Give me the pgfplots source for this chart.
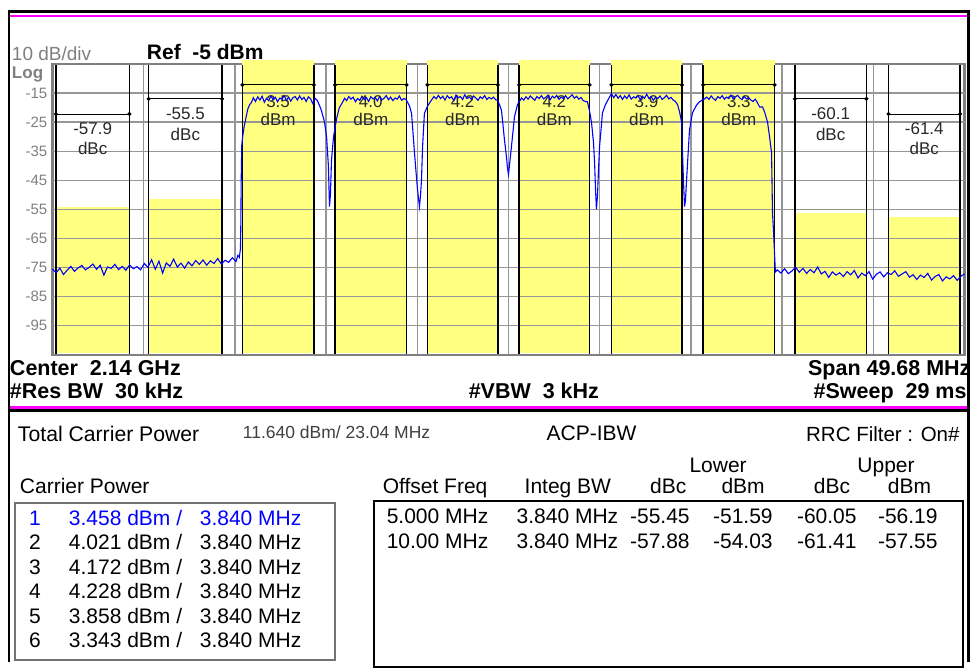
\documentclass[border=0pt]{standalone}
\usepackage{pgfplots}
\pgfplotsset{compat=1.18}
\usepackage{fontspec}
\setmainfont{Liberation Sans}
\definecolor{sy}{RGB}{255,255,128}
\definecolor{tr}{RGB}{0,0,255}
\definecolor{mg}{RGB}{255,0,255}
\definecolor{gl}{RGB}{150,150,150}
\definecolor{ax}{RGB}{128,128,128}
\definecolor{tx}{RGB}{40,40,40}
\newcommand\fs[1]{\fontsize{#1}{#1}\selectfont}
\begin{document}
\begin{tikzpicture}
\begin{scope}[x=1pt,y=1pt]
\path[use as bounding box] (0,0) rectangle (971,662);
\fill[white] (0,0) rectangle (971,662);
\end{scope}
\begin{axis}[
  at={(52.5pt,307pt)}, anchor=south west,
  width=912.5pt, height=291pt, scale only axis,
  xmin=-24.84, xmax=24.84, ymin=-105, ymax=-5,
  xtick={-19.872,-14.904,-9.936,-4.968,0,4.968,9.936,14.904,19.872},
  xticklabels={},
  ytick={-95,-85,-75,-65,-55,-45,-35,-25,-15},
  /pgf/number format/assume math mode=true,
  major tick length=0pt, tick style={draw=none},
  grid=major,
  grid style={line width=1.3pt, draw=gl},
  axis line style={line width=2.5pt, draw=ax},
  clip=false,
  yticklabel style={font=\fs{15}, text=ax, inner sep=1pt, xshift=-4pt},
]
% yellow integration bands
\addplot[fill=sy, draw=none] coordinates {(-24.65,-104.5) (-24.65,-54.03) (-20.65,-54.03) (-20.65,-104.5)};
\addplot[fill=sy, draw=none] coordinates {(-19.6,-104.5) (-19.6,-51.59) (-15.6,-51.59) (-15.6,-104.5)};
\addplot[fill=sy, draw=none] coordinates {(-14.5,-104.5) (-14.5,-3.6) (-10.6,-3.6) (-10.6,-104.5)};
\addplot[fill=sy, draw=none] coordinates {(-9.45,-104.5) (-9.45,-3.6) (-5.55,-3.6) (-5.55,-104.5)};
\addplot[fill=sy, draw=none] coordinates {(-4.42,-104.5) (-4.42,-3.6) (-0.58,-3.6) (-0.58,-104.5)};
\addplot[fill=sy, draw=none] coordinates {(0.58,-104.5) (0.58,-3.6) (4.42,-3.6) (4.42,-104.5)};
\addplot[fill=sy, draw=none] coordinates {(5.6,-104.5) (5.6,-3.6) (9.45,-3.6) (9.45,-104.5)};
\addplot[fill=sy, draw=none] coordinates {(10.6,-104.5) (10.6,-3.6) (14.5,-3.6) (14.5,-104.5)};
\addplot[fill=sy, draw=none] coordinates {(15.6,-104.5) (15.6,-56.19) (19.5,-56.19) (19.5,-104.5)};
\addplot[fill=sy, draw=none] coordinates {(20.7,-104.5) (20.7,-57.55) (24.6,-57.55) (24.6,-104.5)};
% horizontal grid over the bands
\draw[gl, line width=1.3pt] (axis cs:-24.84,-95) -- (axis cs:24.84,-95);
\draw[gl, line width=1.3pt] (axis cs:-24.84,-85) -- (axis cs:24.84,-85);
\draw[gl, line width=1.3pt] (axis cs:-24.84,-75) -- (axis cs:24.84,-75);
\draw[gl, line width=1.3pt] (axis cs:-24.84,-65) -- (axis cs:24.84,-65);
\draw[gl, line width=1.3pt] (axis cs:-24.84,-55) -- (axis cs:24.84,-55);
\draw[gl, line width=1.3pt] (axis cs:-24.84,-45) -- (axis cs:24.84,-45);
\draw[gl, line width=1.3pt] (axis cs:-24.84,-35) -- (axis cs:24.84,-35);
\draw[gl, line width=1.3pt] (axis cs:-24.84,-25) -- (axis cs:24.84,-25);
\draw[gl, line width=1.3pt] (axis cs:-24.84,-15) -- (axis cs:24.84,-15);
% band edges
\foreach \e in {-24.65,-20.65,-19.6,-15.6,-14.5,-10.6,-9.45,-5.55,-4.42,-0.58,0.58,4.42,5.6,9.45,10.6,14.5,15.6,19.5,20.7,24.6}{
  \edef\tmp{\noexpand\draw[black, line width=1.5pt] (axis cs:\e,-104.6) -- (axis cs:\e,-5.4);}\tmp
}
% measurement bars
\addplot[black, line width=0.9pt, mark=*, mark size=1.5pt] coordinates {(-24.65,-22.2) (-20.65,-22.2)};
\addplot[black, line width=0.9pt, mark=*, mark size=1.5pt] coordinates {(-19.6,-17.0) (-15.6,-17.0)};
\addplot[black, line width=0.9pt, mark=*, mark size=1.5pt] coordinates {(-14.5,-12.2) (-10.6,-12.2)};
\addplot[black, line width=0.9pt, mark=*, mark size=1.5pt] coordinates {(-9.45,-12.2) (-5.55,-12.2)};
\addplot[black, line width=0.9pt, mark=*, mark size=1.5pt] coordinates {(-4.42,-12.2) (-0.58,-12.2)};
\addplot[black, line width=0.9pt, mark=*, mark size=1.5pt] coordinates {(0.58,-12.2) (4.42,-12.2)};
\addplot[black, line width=0.9pt, mark=*, mark size=1.5pt] coordinates {(5.6,-12.2) (9.45,-12.2)};
\addplot[black, line width=0.9pt, mark=*, mark size=1.5pt] coordinates {(10.6,-12.2) (14.5,-12.2)};
\addplot[black, line width=0.9pt, mark=*, mark size=1.5pt] coordinates {(15.6,-17.0) (19.5,-17.0)};
\addplot[black, line width=0.9pt, mark=*, mark size=1.5pt] coordinates {(20.7,-22.2) (24.6,-22.2)};
% band labels
\begin{scope}[every node/.style={font=\fs{17}, text=tx, inner sep=0pt}]
\node at (axis cs:-22.65,-27.3) {-57.9};
\node at (axis cs:-22.65,-33.9) {dBc};
\node at (axis cs:-17.6,-22.2) {-55.5};
\node at (axis cs:-17.6,-29.1) {dBc};
\node at (axis cs:-12.55,-18.1) {3.5};
\node at (axis cs:-12.55,-24.2) {dBm};
\node at (axis cs:-7.5,-18.1) {4.0};
\node at (axis cs:-7.5,-24.2) {dBm};
\node at (axis cs:-2.5,-18.1) {4.2};
\node at (axis cs:-2.5,-24.2) {dBm};
\node at (axis cs:2.5,-18.1) {4.2};
\node at (axis cs:2.5,-24.2) {dBm};
\node at (axis cs:7.52,-18.1) {3.9};
\node at (axis cs:7.52,-24.2) {dBm};
\node at (axis cs:12.55,-18.1) {3.3};
\node at (axis cs:12.55,-24.2) {dBm};
\node at (axis cs:17.55,-22.2) {-60.1};
\node at (axis cs:17.55,-29.1) {dBc};
\node at (axis cs:22.65,-27.3) {-61.4};
\node at (axis cs:22.65,-33.9) {dBc};
\end{scope}
% trace
\addplot[tr, line width=1.1pt] coordinates {
(-24.84,-75.5)(-24.64,-76.8)(-24.44,-75.2)(-24.24,-77.4)(-24.04,-75.9)(-23.84,-74.6)(-23.64,-76.3)(-23.44,-75.1)(-23.24,-74.3)(-23.04,-75.8)
(-22.84,-74.9)(-22.64,-73.8)(-22.44,-75.6)(-22.24,-74.2)(-22.04,-77.6)(-21.84,-74.8)(-21.64,-75.3)(-21.44,-73.9)(-21.24,-75.7)(-21.04,-74.6)
(-20.84,-75.9)(-20.64,-74.1)(-20.44,-75.4)(-20.24,-74.7)(-20.04,-75.8)(-19.84,-73.6)(-19.64,-74.9)(-19.44,-72.3)(-19.24,-75.6)(-19.04,-72.8)
(-18.84,-76.9)(-18.64,-73.4)(-18.44,-74.6)(-18.24,-72.1)(-18.04,-74.8)(-17.84,-73.5)(-17.64,-75.2)(-17.44,-73.1)(-17.24,-74.4)(-17.04,-72.6)
(-16.84,-73.9)(-16.64,-72.4)(-16.44,-74.2)(-16.24,-72.7)(-16.04,-73.6)(-15.84,-71.9)(-15.64,-73.8)(-15.44,-72.5)(-15.24,-73.2)(-15.04,-71.6)
(-14.84,-72.9)(-14.74,-70.8)(-14.66,-71.5)(-14.60,-68.5)(-14.58,-60)(-14.56,-45)(-14.53,-33)(-14.48,-30)(-14.40,-26.5)(-14.30,-23.5)
(-14.20,-20.5)(-14.10,-19.0)(-14.00,-18.2)(-13.90,-16.6)
(-13.78,-17.9)(-13.66,-16.3)(-13.54,-17.4)(-13.42,-16.1)(-13.30,-18.2)(-13.18,-16.8)(-13.06,-17.6)(-12.94,-16.0)(-12.82,-17.3)(-12.70,-16.5)
(-12.58,-18.0)(-12.46,-16.7)(-12.34,-17.1)(-12.22,-15.9)(-12.10,-17.5)(-11.98,-16.4)(-11.86,-17.8)(-11.74,-16.6)(-11.62,-16.2)(-11.50,-17.4)
(-11.38,-16.0)(-11.26,-17.2)(-11.14,-16.5)(-11.02,-17.9)(-10.90,-16.3)(-10.78,-17.0)(-10.66,-18.6)(-10.54,-16.8)(-10.42,-17.5)(-10.30,-19.2)
(-10.19,-21)(-10.02,-25)(-9.91,-30)(-9.81,-40)(-9.75,-54)(-9.70,-50)(-9.64,-38)(-9.53,-30)(-9.37,-24)(-9.21,-20)(-9.05,-18.3)(-8.93,-16.8)
(-8.82,-17.6)(-8.70,-16.2)(-8.58,-17.1)(-8.46,-16.4)(-8.34,-18.0)(-8.22,-16.9)(-8.10,-17.5)(-7.98,-16.1)(-7.86,-17.2)(-7.74,-16.6)
(-7.62,-17.9)(-7.50,-16.3)(-7.38,-17.0)(-7.26,-16.5)(-7.14,-17.7)(-7.02,-16.2)(-6.90,-17.4)(-6.78,-16.8)(-6.66,-15.9)(-6.54,-17.3)
(-6.42,-16.4)(-6.30,-17.6)(-6.18,-16.7)(-6.06,-17.1)(-5.94,-16.0)(-5.82,-17.5)(-5.70,-16.9)(-5.58,-17.2)
(-5.39,-19.5)(-5.28,-22)(-5.12,-35.6)(-4.96,-48)(-4.85,-54)(-4.79,-50)(-4.74,-45)(-4.68,-33.5)(-4.58,-22)(-4.41,-19.5)(-4.30,-18.4)
(-4.18,-17.3)(-4.06,-16.2)(-3.94,-17.0)(-3.82,-15.8)(-3.70,-16.9)(-3.58,-16.1)(-3.46,-17.4)(-3.34,-15.9)(-3.22,-16.8)(-3.10,-16.3)
(-2.98,-17.6)(-2.86,-15.7)(-2.74,-16.6)(-2.62,-16.2)(-2.50,-17.2)(-2.38,-15.6)(-2.26,-16.9)(-2.14,-16.4)(-2.02,-17.1)(-1.90,-16.0)
(-1.78,-16.7)(-1.66,-17.5)(-1.54,-16.3)(-1.42,-16.9)(-1.30,-15.9)(-1.18,-17.2)(-1.06,-16.5)(-0.94,-17.0)(-0.82,-16.4)(-0.70,-17.3)
(-0.60,-17.5)(-0.49,-19)(-0.38,-21)(-0.22,-31)(-0.11,-37)(-0.05,-41)(0.0,-43)(0.05,-40)(0.16,-33.5)(0.33,-23)(0.49,-19)(0.71,-16.7)
(0.83,-17.4)(0.95,-16.3)(1.07,-17.1)(1.19,-16.0)(1.31,-16.8)(1.43,-17.5)(1.55,-16.2)(1.67,-16.9)(1.79,-15.9)(1.91,-17.0)
(2.03,-16.5)(2.15,-15.7)(2.27,-17.3)(2.39,-16.1)(2.51,-16.7)(2.63,-15.8)(2.75,-17.2)(2.87,-16.4)(2.99,-16.9)(3.11,-15.9)
(3.23,-17.0)(3.35,-16.3)(3.47,-15.6)(3.59,-16.8)(3.71,-16.1)(3.83,-17.1)(3.95,-16.5)(4.07,-17.6)(4.19,-17.9)
(4.30,-18)(4.41,-21)(4.52,-25)(4.63,-32)(4.69,-39)(4.74,-48)(4.79,-55)(4.85,-50)(4.90,-42)(4.96,-33.5)(5.12,-21.8)(5.28,-19)(5.45,-17)(5.61,-15.2)
(5.73,-16.6)(5.85,-15.5)(5.97,-16.8)(6.09,-15.9)(6.21,-17.2)(6.33,-16.0)(6.45,-16.9)(6.57,-15.6)(6.69,-17.1)(6.81,-16.3)
(6.93,-16.7)(7.05,-15.8)(7.17,-17.3)(7.29,-16.1)(7.41,-16.8)(7.53,-15.4)(7.65,-16.9)(7.77,-16.2)(7.89,-17.5)(8.01,-16.4)
(8.13,-16.9)(8.25,-16.0)(8.37,-17.2)(8.49,-16.6)(8.61,-15.8)(8.73,-17.0)(8.85,-16.5)(8.97,-17.4)(9.09,-17.9)
(9.21,-19)(9.32,-21.5)(9.43,-25)(9.48,-35.6)(9.53,-45)(9.59,-54)(9.64,-52)(9.70,-45)(9.81,-33)(9.86,-27.7)(10.02,-21.8)(10.24,-19.2)(10.40,-18)(10.68,-17)
(10.80,-16.4)(10.92,-17.2)(11.04,-16.0)(11.16,-16.9)(11.28,-17.5)(11.40,-16.2)(11.52,-16.8)(11.64,-15.9)(11.76,-17.1)(11.88,-16.4)
(12.00,-16.9)(12.12,-15.7)(12.24,-17.0)(12.36,-16.3)(12.48,-15.8)(12.60,-16.7)(12.72,-17.3)(12.84,-16.2)(12.96,-17.0)(13.08,-16.6)
(13.20,-17.4)(13.32,-17.9)(13.44,-17.1)(13.56,-18.3)(13.68,-19.8)
(13.84,-19.8)(13.95,-21.5)(14.11,-25)(14.22,-30)(14.33,-35.6)(14.38,-56)(14.44,-63)(14.49,-70)(14.54,-76.5)
(14.64,-75.8)(14.84,-76.9)(15.04,-75.4)(15.24,-77.1)(15.44,-76.2)(15.64,-74.9)(15.84,-76.6)(16.04,-75.3)(16.24,-77.0)(16.44,-75.7)
(16.64,-76.8)(16.84,-74.8)(17.04,-77.2)(17.24,-76.3)(17.44,-78.4)(17.64,-76.5)(17.84,-77.6)(18.04,-76.8)(18.24,-78.1)(18.44,-76.4)
(18.64,-77.5)(18.84,-76.0)(19.04,-78.6)(19.24,-76.9)(19.44,-77.8)(19.64,-76.4)(19.84,-79.0)(20.04,-77.3)(20.24,-76.5)(20.44,-78.2)
(20.64,-76.8)(20.84,-77.4)(21.04,-76.1)(21.24,-78.0)(21.44,-77.2)(21.64,-76.4)(21.84,-78.3)(22.04,-77.5)(22.24,-79.1)(22.44,-77.6)
(22.64,-78.4)(22.84,-77.0)(23.04,-79.3)(23.24,-78.1)(23.44,-77.4)(23.64,-79.6)(23.84,-78.2)(24.04,-78.9)(24.24,-77.8)(24.44,-79.4)
(24.64,-78.0)(24.84,-77.2)
};
\end{axis}
\begin{scope}[x=1pt,y=1pt, every node/.style={inner sep=0pt, outer sep=0pt}]
% frame
\draw[black, line width=3pt] (8,650) -- (970,650);
\draw[mg, line width=2.5pt] (9,646) -- (968,646);
\draw[mg, line width=3pt] (9,254.5) -- (968,254.5);
\draw[black, line width=3pt] (9,251.5) -- (968,251.5);
% header texts
\node[anchor=base west, font=\fs{19}, text=ax] at (12,601.6) {10 dB/div};
\node[anchor=base west, font=\fs{17}\bfseries, text=ax] at (12,583.5) {Log};
\node[anchor=base west, font=\fs{21}\bfseries] at (147,602.5) {Ref\ \ -5 dBm};
% bottom of plot
\node[anchor=base west, font=\fs{21.5}\bfseries] at (10,286) {Center\ \ 2.14 GHz};
\node[anchor=base west, font=\fs{21.5}\bfseries] at (10,263) {\#Res BW\ \ 30 kHz};
\node[anchor=base west, font=\fs{21.5}\bfseries] at (469,263) {\#VBW\ \ 3 kHz};
\node[anchor=base east, font=\fs{21.5}\bfseries] at (971,286) {Span 49.68 MHz};
\node[anchor=base east, font=\fs{21.5}\bfseries] at (967,263) {\#Sweep\ \ 29 ms};
% lower panel
\node[anchor=base west, font=\fs{21.2}] at (18,220.5) {Total Carrier Power};
\node[anchor=base west, font=\fs{17.5}, text=black!75] at (243,223.6) {11.640 dBm/ 23.04 MHz};
\node[anchor=base west, font=\fs{21}] at (547,221.5) {ACP-IBW};
\node[anchor=base east, font=\fs{20.5}] at (960,220.5) {RRC Filter : On\#};
\node[anchor=base, font=\fs{21}] at (718.5,189.5) {Lower};
\node[anchor=base, font=\fs{21}] at (886.5,189.5) {Upper};
\node[anchor=base west, font=\fs{21}] at (20,168.5) {Carrier Power};
\node[anchor=base west, font=\fs{21}] at (383,168.5) {Offset Freq};
\node[anchor=base west, font=\fs{21}] at (525,168.5) {Integ BW};
\node[anchor=base, font=\fs{21}] at (668.5,168.5) {dBc};
\node[anchor=base, font=\fs{21}] at (743.5,168.5) {dBm};
\node[anchor=base, font=\fs{21}] at (832.5,168.5) {dBc};
\node[anchor=base, font=\fs{21}] at (910,168.5) {dBm};
% boxes
\draw[black!55, line width=2pt] (15,2) rectangle (335,159);
\draw[black, line width=2pt] (374,-5) rectangle (963,161);
% carrier power rows
\node[anchor=base, font=\fs{21}, text=tr] at (35,136.5) {1};
\node[anchor=base west, font=\fs{21}, text=tr] at (69,136.5) {3.458 dBm /};
\node[anchor=base west, font=\fs{21}, text=tr] at (200,136.5) {3.840 MHz};
\node[anchor=base, font=\fs{21}] at (35,112) {2};
\node[anchor=base west, font=\fs{21}] at (69,112) {4.021 dBm /};
\node[anchor=base west, font=\fs{21}] at (200,112) {3.840 MHz};
\node[anchor=base, font=\fs{21}] at (35,87.5) {3};
\node[anchor=base west, font=\fs{21}] at (69,87.5) {4.172 dBm /};
\node[anchor=base west, font=\fs{21}] at (200,87.5) {3.840 MHz};
\node[anchor=base, font=\fs{21}] at (35,63) {4};
\node[anchor=base west, font=\fs{21}] at (69,63) {4.228 dBm /};
\node[anchor=base west, font=\fs{21}] at (200,63) {3.840 MHz};
\node[anchor=base, font=\fs{21}] at (35,38.5) {5};
\node[anchor=base west, font=\fs{21}] at (69,38.5) {3.858 dBm /};
\node[anchor=base west, font=\fs{21}] at (200,38.5) {3.840 MHz};
\node[anchor=base, font=\fs{21}] at (35,14) {6};
\node[anchor=base west, font=\fs{21}] at (69,14) {3.343 dBm /};
\node[anchor=base west, font=\fs{21}] at (200,14) {3.840 MHz};
% ACP rows
\node[anchor=base west, font=\fs{21}] at (387,138.5) {5.000 MHz};
\node[anchor=base west, font=\fs{21}] at (517,138.5) {3.840 MHz};
\node[anchor=base east, font=\fs{21}] at (690,138.5) {-55.45};
\node[anchor=base east, font=\fs{21}] at (773,138.5) {-51.59};
\node[anchor=base east, font=\fs{21}] at (857,138.5) {-60.05};
\node[anchor=base east, font=\fs{21}] at (938,138.5) {-56.19};
\node[anchor=base west, font=\fs{21}] at (387,113.5) {10.00 MHz};
\node[anchor=base west, font=\fs{21}] at (517,113.5) {3.840 MHz};
\node[anchor=base east, font=\fs{21}] at (690,113.5) {-57.88};
\node[anchor=base east, font=\fs{21}] at (773,113.5) {-54.03};
\node[anchor=base east, font=\fs{21}] at (857,113.5) {-61.41};
\node[anchor=base east, font=\fs{21}] at (938,113.5) {-57.55};
% side borders
\draw[black, line width=2.5pt] (9,651.5) -- (9,0);
\draw[black, line width=3pt] (968.5,651.5) -- (968.5,0);
\end{scope}
\end{tikzpicture}
\end{document}
